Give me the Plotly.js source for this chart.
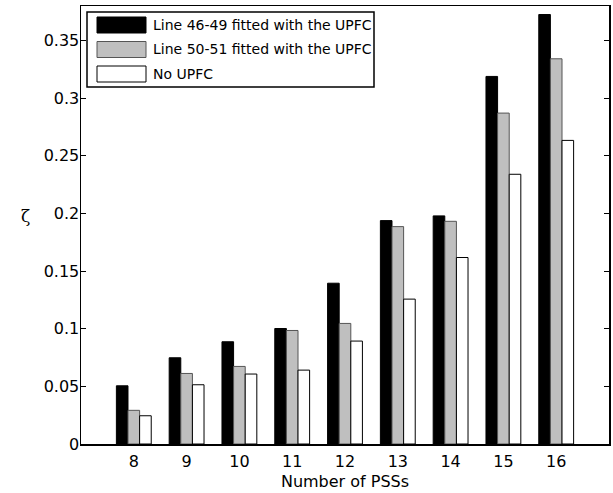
<!DOCTYPE html>
<html>
<head>
<meta charset="utf-8">
<script src="https://cdn.plot.ly/plotly-3.0.1.min.js"></script>
<style>
html,body{margin:0;padding:0;background:#fff;}
#chart{width:613px;height:493px;}
</style>
</head>
<body>
<div id="chart"></div>
<script>
// ---- data ----
var numPSS = [8, 9, 10, 11, 12, 13, 14, 15, 16];
var line4649 = [0.0505, 0.0748, 0.0887, 0.1002, 0.1395, 0.1938, 0.1979, 0.3189, 0.3726];
var line5051 = [0.0292, 0.0612, 0.0673, 0.0985, 0.1046, 0.1886, 0.1932, 0.2871, 0.3342];
var noUPFC   = [0.0245, 0.0514, 0.0607, 0.0641, 0.0893, 0.1257, 0.1618, 0.2340, 0.2634];
var seriesNames = ["Line 46-49 fitted with the UPFC", "Line 50-51 fitted with the UPFC", "No UPFC"];
var yTickVals = [0, 0.05, 0.1, 0.15, 0.2, 0.25, 0.3, 0.35];
var yTickText = ["0", "0.05", "0.1", "0.15", "0.2", "0.25", "0.3", "0.35"];
var xLabel = "Number of PSSs";
var yLabel = "\u03B6";

// ---- styling ----
var fills = ["#000000", "#bfbfbf", "#ffffff"];
var edges = ["#000000", "#555555", "#000000"];
var FONT = "DejaVu Sans, Arial, sans-serif";
var W = 613, H = 493;
var M = {l: 81, r: 4, t: 6, b: 49};
var PW = W - M.l - M.r, PH = H - M.t - M.b;
function px(x){ return (x - M.l) / PW; }
function py(y){ return (H - M.b - y) / PH; }

var values = [line4649, line5051, noUPFC];
var traces = values.map(function(v, i){
  return {
    type: "bar", x: numPSS, y: v, name: seriesNames[i],
    marker: {color: fills[i], line: {color: edges[i], width: 1}},
    showlegend: false, hoverinfo: "x+y"
  };
});

// custom legend (MATLAB style)
var shapes = [{
  type: "rect", xref: "paper", yref: "paper",
  x0: px(87), x1: px(374), y0: py(87), y1: py(12),
  line: {color: "#000", width: 1.5}, fillcolor: "#fff", layer: "above"
}];
var annotations = [];
var rowC = [25, 49.5, 74];
for (var i = 0; i < seriesNames.length; i++) {
  shapes.push({
    type: "rect", xref: "paper", yref: "paper",
    x0: px(97), x1: px(146), y0: py(rowC[i] + 8), y1: py(rowC[i] - 8),
    line: {color: edges[i], width: 1}, fillcolor: fills[i], layer: "above"
  });
  annotations.push({
    xref: "paper", yref: "paper", x: px(151), y: py(rowC[i]),
    xanchor: "left", yanchor: "middle", showarrow: false,
    text: seriesNames[i], font: {family: FONT, size: 14, color: "#000"}
  });
}
annotations.push({
  xref: "paper", yref: "paper", x: px(25), y: py(216),
  xanchor: "center", yanchor: "middle", showarrow: false,
  text: yLabel, font: {family: "DejaVu Serif, serif", size: 17, color: "#000"}
});

var layout = {
  width: W, height: H,
  margin: M,
  paper_bgcolor: "#fff", plot_bgcolor: "#fff",
  barmode: "group", bargap: 0.34, bargroupgap: 0,
  font: {family: FONT, size: 16, color: "#000"},
  xaxis: {
    range: [7, 17], tickvals: numPSS, ticktext: numPSS.map(String),
    ticks: "", showgrid: false, zeroline: false,
    showline: true, mirror: true, linecolor: "#000", linewidth: 1.5,
    ticklabelstandoff: 2,
    tickfont: {family: FONT, size: 16, color: "#000"},
    title: {text: xLabel, font: {family: FONT, size: 16, color: "#000"}, standoff: 6}
  },
  yaxis: {
    range: [0, 0.38], tickvals: yTickVals, ticktext: yTickText,
    ticks: "inside", ticklen: 5, tickwidth: 1, tickcolor: "#000",
    showgrid: false, zeroline: false,
    showline: true, mirror: "ticks", linecolor: "#000", linewidth: 1.5,
    ticklabelstandoff: -3,
    tickfont: {family: FONT, size: 16, color: "#000"}
  },
  shapes: shapes,
  annotations: annotations
};

Plotly.newPlot("chart", traces, layout, {staticPlot: true, displayModeBar: false});
</script>
</body>
</html>
